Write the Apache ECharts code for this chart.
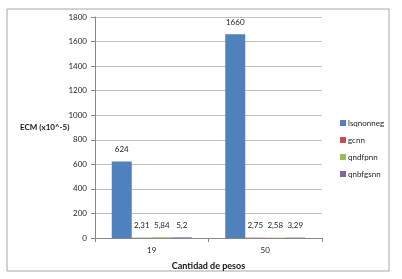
<!DOCTYPE html>
<html>
<head>
<meta charset="utf-8">
<script src="https://cdn.jsdelivr.net/npm/echarts@6/dist/echarts.min.js"></script>
<style>
  html, body { margin: 0; padding: 0; background: #fff; }
  #main { width: 402px; height: 279px; }
</style>
</head>
<body>
<div id="main"></div>
<script>
// datos
var categorias = ['19', '50'];
var lsqnonneg = [624, 1660];
var gcnn = [2.31, 2.75];
var qndfpnn = [5.84, 2.58];
var qnbfgsnn = [5.2, 3.29];
var nombres = ['lsqnonneg', 'gcnn', 'qndfpnn', 'qnbfgsnn'];
var colores = ['#4F81BD', '#C0504D', '#9BBB59', '#8064A2'];

var fuente = 'Lato';
var chart = echarts.init(document.getElementById('main'));

function serie(nombre, datos, color) {
  return {
    name: nombre,
    type: 'bar',
    data: datos,
    barWidth: 20,
    barGap: '0%',
    itemStyle: { color: color },
    label: {
      show: true,
      position: 'top',
      distance: 8,
      fontFamily: fuente,
      fontSize: 8,
      color: '#222',
      formatter: function (p) { return String(p.value).replace('.', ','); }
    }
  };
}

var option = {
  animation: false,
  backgroundColor: '#fff',
  textStyle: { fontFamily: fuente },
  graphic: [{
    type: 'rect',
    shape: { x: 7, y: 9, width: 382, height: 262 },
    style: { fill: 'none', stroke: '#A6A6A6', lineWidth: 1 },
    silent: true
  }, {
    type: 'text',
    left: 20,
    top: 123,
    style: { text: 'ECM (x10^-5)', font: 'bold 8px Lato', fill: '#111' }
  }],
  legend: {
    orient: 'vertical',
    left: 335,
    top: 114,
    itemWidth: 6,
    itemHeight: 6,
    itemGap: 9,
    icon: 'rect',
    textStyle: { fontSize: 8, color: '#222', padding: [0, 0, 0, -3] },
    data: nombres
  },
  grid: { left: 95, right: 80, top: 17, bottom: 41 },
  xAxis: {
    type: 'category',
    data: categorias,
    name: 'Cantidad de pesos',
    nameLocation: 'middle',
    nameGap: 24,
    nameTextStyle: { fontSize: 9, fontWeight: 'bold', color: '#111' },
    axisLine: { lineStyle: { color: '#868686' } },
    axisTick: { show: true, length: 4, lineStyle: { color: '#868686' } },
    axisLabel: { fontSize: 8, color: '#222', margin: 8 }
  },
  yAxis: {
    type: 'value',
    min: 0,
    max: 1800,
    interval: 200,
    axisLine: { show: true, lineStyle: { color: '#868686' } },
    axisTick: { show: true, length: 4, lineStyle: { color: '#868686' } },
    axisLabel: {
      fontSize: 8, color: '#222', margin: 8,
      formatter: function (v) { return String(v); }
    },
    splitLine: { lineStyle: { color: '#BFBFBF' } }
  },
  series: [
    serie(nombres[0], lsqnonneg, colores[0]),
    serie(nombres[1], gcnn, colores[1]),
    serie(nombres[2], qndfpnn, colores[2]),
    serie(nombres[3], qnbfgsnn, colores[3])
  ]
};

chart.setOption(option);
</script>
</body>
</html>
